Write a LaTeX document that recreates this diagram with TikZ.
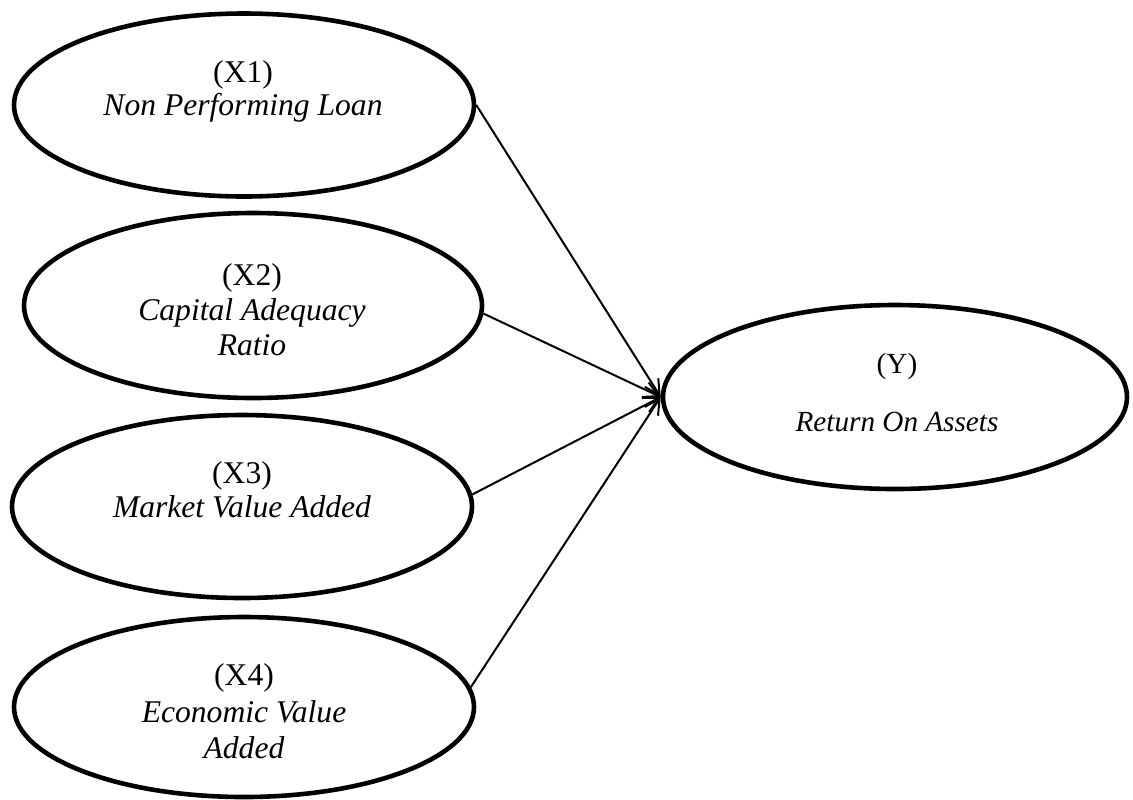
\documentclass[tikz,border=0pt]{standalone}
\usepackage{fontspec}
\setmainfont{Liberation Serif}
\usetikzlibrary{shapes.geometric,arrows.meta}
\begin{document}
\begin{tikzpicture}[x=0.5pt,y=-0.5pt,
  var/.style={draw,ellipse,line width=2.3pt,inner sep=0pt,minimum width=230pt,minimum height=91.5pt},
  lbl/.style={anchor=base,inner sep=0pt,font=\fontsize{15.8}{17}\selectfont},
  lbly/.style={anchor=base,inner sep=0pt,font=\fontsize{14.6}{17}\selectfont},
  link/.style={line width=1pt,-{Straight Barb[length=7.5pt,width=8pt]}}]
\fill[white] (0,0) rectangle (1133,799);
\useasboundingbox (0,0) rectangle (1133,799);
% ellipses
\node[var] (X1) at (244,105) {};
\node[var,minimum width=229pt,minimum height=92.5pt] (X2) at (253,305.5) {};
\node[var] (X3) at (242,506.5) {};
\node[var,minimum height=90pt] (X4) at (244,707) {};
\node[var,minimum width=232pt,minimum height=92pt] (Y) at (895,397) {};
% labels
\node[lbl] (x1a) at (243,82) {(X1)};
\node[lbl] (x1b) at (243,115) {\itshape Non Performing Loan};
\node[lbl] (x2a) at (252,285) {(X2)};
\node[lbl] (x2b) at (252,320) {\itshape Capital Adequacy};
\node[lbl] (x2c) at (252,355) {\itshape Ratio};
\node[lbl] (x3a) at (242,483) {(X3)};
\node[lbl] (x3b) at (242,517) {\itshape Market Value Added};
\node[lbl] (x4a) at (244,685) {(X4)};
\node[lbl] (x4b) at (244,722) {\itshape Economic Value};
\node[lbl] (x4c) at (244,758) {\itshape Added};
\node[lbly] (ya) at (897,373) {(Y)};
\node[lbly] (yb) at (897,431) {\itshape Return On Assets};
% connectors
\draw[link] (X1.east) -- (Y.west);
\draw[link] (X2.-2) -- (Y.west);
\draw[link] (X3.3) -- (Y.west);
\draw[link] (X4.5) -- (Y.west);
\end{tikzpicture}
\end{document}
